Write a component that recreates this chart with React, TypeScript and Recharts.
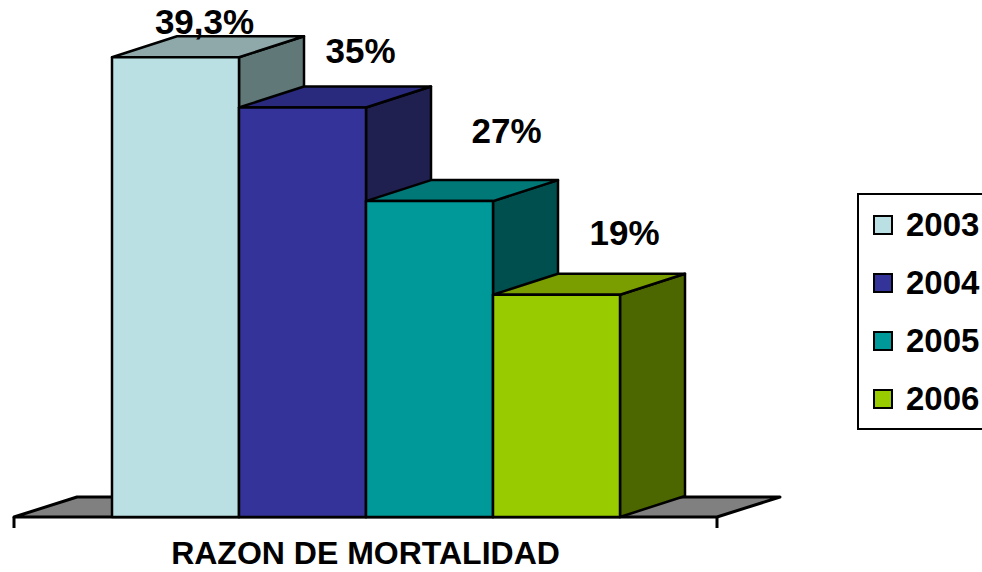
import React from 'react';
import { BarChart, Bar, XAxis, YAxis, Legend, ReferenceArea } from 'recharts';

const CATEGORY = 'RAZON DE MORTALIDAD';
const YEARS = ['2003', '2004', '2005', '2006'];
const VALUES = [39.3, 35, 27, 19];
const VALUE_LABELS = ['39,3%', '35%', '27%', '19%'];

// face colours: front / top / side
const FRONT = ['#BBE0E3', '#333399', '#009999', '#99CC00'];
const TOP = ['#8FA9AA', '#29297E', '#007878', '#7A9E00'];
const SIDE = ['#607878', '#1F1F50', '#004F4F', '#4C6600'];

// where Excel dropped each value label, relative to the bar's front-top centre
const LABEL_OFFSETS = [[29, -23], [58, -45], [77, -58], [68, -50]];

const DEPTH_X = 65;
const DEPTH_Y = 21;
const FONT = '"Liberation Sans", Arial, sans-serif';

const row: Record<string, string | number> = { name: CATEGORY };
YEARS.forEach((y, i) => { row[y] = VALUES[i]; });
const data = [row];

function makeBox(i: number) {
  return (props: any) => {
    const { x, y, width, height } = props;
    if (width == null || height == null) return null;
    const r = x + width;
    const b = y + height;
    return (
      <g stroke="#000" strokeWidth={2.5} strokeLinejoin="round">
        <polygon points={`${r},${y} ${r + DEPTH_X},${y - DEPTH_Y} ${r + DEPTH_X},${b - DEPTH_Y} ${r},${b}`} fill={SIDE[i]} />
        <polygon points={`${x},${y} ${x + DEPTH_X},${y - DEPTH_Y} ${r + DEPTH_X},${y - DEPTH_Y} ${r},${y}`} fill={TOP[i]} />
        <rect x={x} y={y} width={width} height={height} fill={FRONT[i]} />
      </g>
    );
  };
}

function makeLabel(i: number) {
  return (props: any) => {
    const { x, y, width } = props;
    const [ox, oy] = LABEL_OFFSETS[i];
    return (
      <text x={x + width / 2 + ox} y={y + oy} textAnchor="middle" fontFamily={FONT}
        fontWeight="bold" fontSize={35} fill="#000">
        {VALUE_LABELS[i]}
      </text>
    );
  };
}

const Floor = (props: any) => {
  const { x, y, width, height } = props;
  const b = y + height;
  const dx = 63;
  const dy = 20;
  return (
    <g>
      <polygon points={`${x},${b} ${x + dx},${b - dy} ${x + width + dx},${b - dy} ${x + width},${b}`}
        fill="#808080" stroke="#000" strokeWidth={3} strokeLinejoin="round" />
      <line x1={x} y1={b} x2={x} y2={b + 11} stroke="#000" strokeWidth={3} />
      <line x1={x + width} y1={b} x2={x + width} y2={b + 11} stroke="#000" strokeWidth={3} />
    </g>
  );
};

const CategoryTick = (props: any) => {
  const { x, y, payload } = props;
  return (
    <text x={x} y={y + 47} textAnchor="middle" fontFamily={FONT} fontWeight="bold"
      fontSize={32} fill="#000">
      {payload.value}
    </text>
  );
};

const LegendBox = (props: any) => {
  const items = props.payload || [];
  return (
    <div style={{ border: '2px solid #000', borderRight: 'none', paddingTop: 1, paddingLeft: 14, background: '#fff', width: 200, boxSizing: 'border-box' }}>
      {items.map((it: any) => (
        <div key={it.value} style={{ height: 58, display: 'flex', alignItems: 'center', whiteSpace: 'nowrap' }}>
          <span style={{ width: 16, height: 16, border: '2px solid #000', background: FRONT[YEARS.indexOf(it.value)] ?? it.color, display: 'inline-block', flexShrink: 0 }} />
          <span style={{ marginLeft: 13, fontFamily: FONT, fontWeight: 'bold', fontSize: 33, color: '#000', lineHeight: '58px' }}>
            {it.value}
          </span>
        </div>
      ))}
    </div>
  );
};

export default function App() {
  return (
    <div style={{ position: 'absolute', left: 0, top: 0, width: 982, height: 572, overflow: 'hidden', background: '#fff' }}>
      <BarChart width={982} height={572} data={data} margin={{ top: 49, right: 265, left: 14, bottom: 0 }}
        barGap={0} barSize={127}>
        <XAxis dataKey="name" height={55} axisLine={false} tickLine={false} tickSize={0} tickMargin={0}
          tick={CategoryTick} interval={0} />
        <YAxis hide domain={[0, 40]} />
        <ReferenceArea y1={0} y2={1} shape={Floor} ifOverflow="visible" />
        {YEARS.map((yr, i) => (
          <Bar key={yr} dataKey={yr} name={yr} fill={FRONT[i]} isAnimationActive={false}
            shape={makeBox(i)} label={makeLabel(i)} />
        ))}
        <Legend layout="horizontal" verticalAlign="middle" align="center" content={LegendBox}
          wrapperStyle={{ left: 857, top: 193, width: 200, height: 'auto' }} />
      </BarChart>
    </div>
  );
}
